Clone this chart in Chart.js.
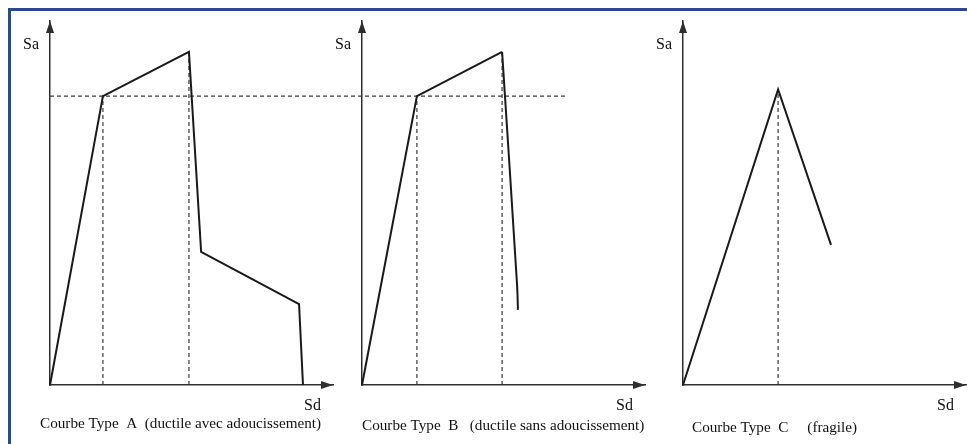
<!DOCTYPE html>
<html>
<head>
<meta charset="utf-8">
<script src="https://cdn.jsdelivr.net/npm/chart.js@4.4.1/dist/chart.umd.min.js"></script>
<style>
html, body { margin: 0; padding: 0; background: #fff; }
#wrap { position: relative; width: 967px; height: 444px; overflow: hidden; background: #fff; }
#frame { position: absolute; left: 8px; top: 8px; width: 2000px; height: 2000px; box-sizing: border-box;
         border-top: 3px solid #2a4a8a; border-left: 3px solid #2a4a8a; }
canvas { position: absolute; left: 0; top: 0; }
</style>
</head>
<body>
<div id="wrap">
  <div id="frame"></div>
  <canvas id="chartA" width="967" height="444"></canvas>
  <canvas id="chartB" width="967" height="444"></canvas>
  <canvas id="chartC" width="967" height="444"></canvas>
</div>
<script>
// Capacity curves (Sd, Sa), arbitrary units
const sdA = [0, 1.87, 4.91, 5.34, 8.80, 8.94];
const saA = [0, 9.92, 11.44, 4.57, 2.78, 0];

// panel B: straight rise, then a slightly curved drop
const sdB = [0, 1.94, 4.95];
const saB = [0, 9.92, 11.44];
const sdBDrop = [4.95, 5.48, 5.51];
const saBDrop = [11.44, 3.43, 2.58];

const sdC = [0, 3.36, 5.23];
const saC = [0, 10.15, 4.81];

// yield level dashed line runs from panel A across into panel B (in panel A units)
const yieldLineEnd = 18.2;

const sdMax = 10;
const saMax = 12.5;

const xLabel = 'Sd';
const yLabel = 'Sa';
const captions = [
    'Courbe Type  A  (ductile avec adoucissement)',
    'Courbe Type  B   (ductile sans adoucissement)',
    'Courbe Type  C     (fragile)'
];

const lineColor = '#1a1a1a';
const axisColor = '#2e2e2e';
const dashColor = '#3a3a3a';

function pts(xs, ys) {
    return xs.map((x, i) => ({ x: x, y: ys[i] }));
}

function curveSet(xs, ys, tension) {
    return { data: pts(xs, ys), borderColor: lineColor, borderWidth: 2, pointRadius: 0,
             tension: tension || 0, clip: false };
}

function dashSet(xs, ys) {
    return { data: pts(xs, ys), borderColor: dashColor, borderWidth: 1.2, borderDash: [4, 3], pointRadius: 0, clip: false };
}

// arrows, axis names and caption
const decorPlugin = {
    id: 'decor',
    afterDraw(chart, args, opts) {
        const { ctx, chartArea: a } = chart;
        ctx.save();
        ctx.fillStyle = axisColor;
        ctx.beginPath();
        ctx.moveTo(a.left, a.top);
        ctx.lineTo(a.left - 4, a.top + 12);
        ctx.lineTo(a.left + 4, a.top + 12);
        ctx.closePath();
        ctx.fill();
        ctx.beginPath();
        ctx.moveTo(a.right, a.bottom);
        ctx.lineTo(a.right - 12, a.bottom - 4);
        ctx.lineTo(a.right - 12, a.bottom + 4);
        ctx.closePath();
        ctx.fill();

        ctx.fillStyle = '#111';
        ctx.font = '16px "Liberation Serif"';
        ctx.textAlign = 'right';
        ctx.textBaseline = 'alphabetic';
        ctx.fillText(yLabel, a.left - 11, 49);
        ctx.fillText(xLabel, a.right - 12, 410);
        ctx.textAlign = 'left';
        ctx.font = '15.2px "Liberation Serif"';
        ctx.fillText(opts.caption, a.left + opts.captionShift, opts.captionY);
        ctx.restore();
    }
};

function makeChart(id, left, right, datasets, caption, captionShift, captionY) {
    const axis = (max) => ({
        type: 'linear',
        min: 0,
        max: max,
        grid: { display: false, drawTicks: false },
        ticks: { display: false },
        border: { display: true, color: axisColor, width: 1.5 }
    });
    return new Chart(document.getElementById(id), {
        type: 'line',
        data: { datasets: datasets },
        options: {
            responsive: false,
            animation: false,
            events: [],
            layout: { padding: { left: left, right: 967 - right, top: 21, bottom: 444 - 385 } },
            scales: { x: axis(sdMax), y: axis(saMax) },
            elements: { point: { radius: 0 } },
            plugins: {
                legend: { display: false },
                tooltip: { enabled: false },
                decor: { caption: caption, captionShift: captionShift, captionY: captionY }
            }
        },
        plugins: [decorPlugin]
    });
}

makeChart('chartA', 50, 333, [
    curveSet(sdA, saA),
    dashSet([0, yieldLineEnd], [saA[1], saA[1]]),
    dashSet([sdA[1], sdA[1]], [0, saA[1]]),
    dashSet([sdA[2], sdA[2]], [0, saA[2]])
], captions[0], -10, 428);

makeChart('chartB', 362, 645, [
    curveSet(sdB, saB),
    curveSet(sdBDrop, saBDrop, 0.4),
    dashSet([sdB[1], sdB[1]], [0, saB[1]]),
    dashSet([sdB[2], sdB[2]], [0, saB[2]])
], captions[1], 0, 430);

makeChart('chartC', 683, 966, [
    curveSet(sdC, saC),
    dashSet([sdC[1], sdC[1]], [0, saC[1]])
], captions[2], 9, 432);
</script>
</body>
</html>
